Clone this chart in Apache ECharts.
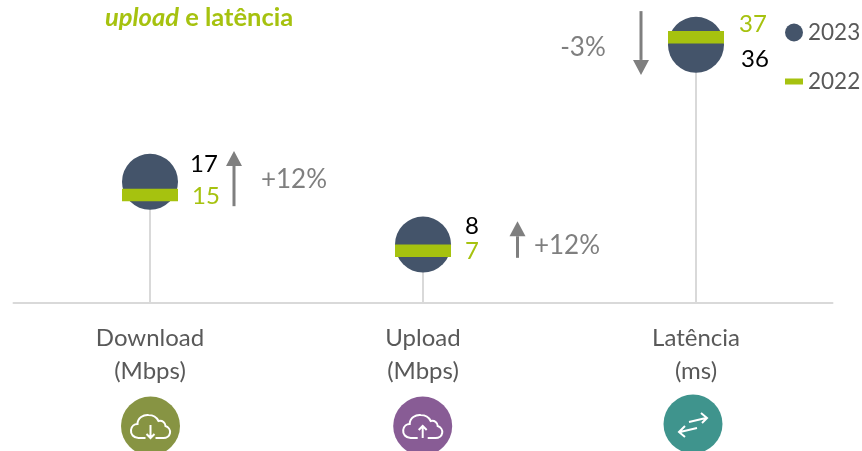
<!DOCTYPE html>
<html>
<head>
<meta charset="utf-8">
<style>html,body{margin:0;padding:0;background:#fff}#c{width:862px;height:451px}</style>
<script src="https://cdn.jsdelivr.net/npm/echarts@6/dist/echarts.min.js"></script>
</head>
<body>
<div id="c"></div>
<script>
const categories = ['Download\n(Mbps)', 'Upload\n(Mbps)', 'Latência\n(ms)'];
const values2023 = [16.9, 8.15, 36];
const values2022 = [15.05, 7.3, 37.05];
const changeLabels = ['+12%', '+12%', '-3%'];
const arrowFrom = [13.5, 6.3, 40.7];
const arrowTo = [21.2, 11.4, 31.8];
const changeLabelAt = [17.2, 8.0, 35.6];

const FONT = 'Lato, "Open Sans", sans-serif';
const GREEN = '#a6c20f', NAVY = '#44546a', GREY = '#7f7f7f';
const arrowDx = [84, 94.5, -55];
const textDx = [144, 144, -113];
const labelOffset2023 = [[7, -18], [9, -18], [12, 14]];
const labelOffset2022 = [[9, 1], [9, 1], [10, -13]];
const iconColors = ['#879443', '#885c95', '#3f948d'];
const iconDx = [0.5, -0.3, -3];
const iconDy = [123, 123, 121];
const CLOUD = 'M-5 12H-12C-17 12-20 8-19.5 4C-19 0-16-2-13-2C-13-8-7-11.5-2-11C2-11 6-9 8-5C12-6 15-3 15 0C18 1 20 4 19.5 7C19 10 16 12 13 12H5';
const glyphs = [
  CLOUD + 'M0-1V12M-4 8L0 12L4 8',
  CLOUD + 'M0 12V0M-4 4L0 0L4 4',
  'M-4-2L13-6M8-11L14-6L9-1M4 4L-13 8M-8 2L-14 8L-8 13'
];

function withOffsets(vals, offsets, color) {
  return vals.map((v, i) => ({
    value: v,
    label: { show: true, position: 'right', offset: offsets[i], color: color, fontFamily: FONT, fontSize: 24,
      formatter: p => String(Math.round(p.value)) }
  }));
}

const chart = echarts.init(document.getElementById('c'), null, { renderer: 'canvas' });
chart.setOption({
  animation: false,
  backgroundColor: '#fff',
  title: {
    left: 100, top: 0,
    text: '{i|upload}{b| e latência}',
    textStyle: {
      rich: {
        i: { fontFamily: FONT, fontSize: 25.5, fontWeight: 'bold', fontStyle: 'italic', color: GREEN },
        b: { fontFamily: FONT, fontSize: 25.5, fontWeight: 'bold', color: GREEN }
      }
    }
  },
  legend: {
    left: 785, top: 21, padding: 0, orient: 'vertical', itemWidth: 18, itemHeight: 18, itemGap: 26,
    textStyle: { color: '#595959', fontFamily: FONT, fontSize: 22.5, padding: 0 },
    data: [
      { name: '2023', icon: 'circle' },
      { name: '2022', icon: 'path://M0 0L0.01 0ZM0 6H18V12H0ZM18 18L17.99 18Z' }
    ]
  },
  grid: { left: 13.5, right: 29.5, top: 0, bottom: 148 },
  xAxis: {
    type: 'category', data: categories,
    axisLine: { lineStyle: { color: '#d9d9d9', width: 2 } },
    axisTick: { show: false },
    axisLabel: { color: '#595959', fontFamily: FONT, fontSize: 24, lineHeight: 33, margin: 19, interval: 0 }
  },
  yAxis: { type: 'value', min: 0, max: 42.25, show: false, splitLine: { show: false } },
  series: [
    { name: 'stem', type: 'bar', data: values2023, barWidth: 2, z: 1,
      itemStyle: { color: '#d9d9d9' }, silent: true },
    { name: '2023', type: 'scatter', data: withOffsets(values2023, labelOffset2023, '#000'),
      symbol: 'circle', symbolSize: 56, z: 2, itemStyle: { color: NAVY, opacity: 1 } },
    { name: '2022', type: 'scatter', data: withOffsets(values2022, labelOffset2022, GREEN),
      symbol: 'rect', symbolSize: [56, 12.5], z: 3, itemStyle: { color: GREEN, opacity: 1 } },
    { name: 'change', type: 'custom', z: 4, clip: false,
      data: categories.map((c, i) => [i, arrowFrom[i], arrowTo[i], changeLabelAt[i]]),
      encode: { x: 0, y: 1 },
      renderItem: (params, api) => {
        const i = api.value(0);
        const x0 = api.coord([i, 0])[0];
        const x = x0 + arrowDx[i];
        const y1 = api.coord([i, api.value(1)])[1];
        const y2 = api.coord([i, api.value(2)])[1];
        const dir = y2 < y1 ? 1 : -1;
        const yBase = y2 + dir * 15;
        return { type: 'group', children: [
          { type: 'line', shape: { x1: x, y1: y1, x2: x, y2: yBase }, style: { stroke: GREY, lineWidth: 3 } },
          { type: 'polygon', shape: { points: [[x, y2], [x - 8, yBase], [x + 8, yBase]] }, style: { fill: GREY } },
          { type: 'text', x: x0 + textDx[i], y: api.coord([i, api.value(3)])[1],
            style: { text: changeLabels[i], fill: GREY, font: '26px ' + FONT, align: 'center', verticalAlign: 'middle' } }
        ] };
      }
    },
    { name: 'icons', type: 'custom', z: 5, clip: false,
      data: categories.map((c, i) => [i, 0]),
      encode: { x: 0, y: 1 },
      renderItem: (params, api) => {
        const i = api.value(0);
        const p = api.coord([i, 0]);
        const cx = p[0] + iconDx[i], cy = p[1] + iconDy[i];
        return { type: 'group', children: [
          { type: 'circle', shape: { cx: cx, cy: cy, r: 29.5 }, style: { fill: iconColors[i] } },
          { type: 'path', x: cx, y: cy, shape: { pathData: glyphs[i] },
            style: { fill: 'none', stroke: '#fff', lineWidth: 2 } }
        ] };
      }
    }
  ]
});
</script>
</body>
</html>
